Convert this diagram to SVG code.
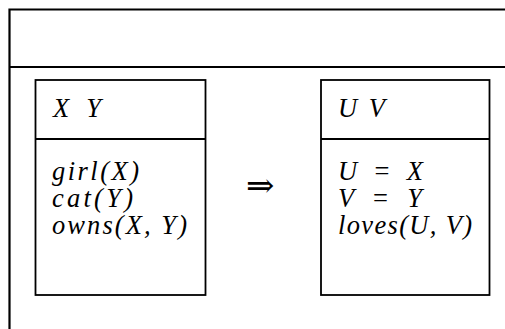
<svg xmlns="http://www.w3.org/2000/svg" width="505" height="329" viewBox="0 0 505 329">
<style>
.frame{fill:none;stroke:#000;stroke-width:2.2}
.box{fill:none;stroke:#000;stroke-width:1.8}
.t{font-family:"Liberation Serif","Times New Roman",serif;font-style:italic;font-size:26.5px;fill:#000}
.up{font-style:normal}
.sym{font-family:"Liberation Serif","DejaVu Serif",serif;font-size:34px;fill:#000}
</style>
<rect width="505" height="329" fill="#fff"/>
<g id="frame">
<path class="frame" d="M9.5 335 V9.5 H510 M9.5 67 H510"/>
</g>
<g id="left">
<rect class="box" x="35.5" y="80" width="170" height="215"/>
<line class="box" x1="35.5" y1="139" x2="205.5" y2="139"/>
<text class="t" x="53" y="117" textLength="48" lengthAdjust="spacing">X Y</text>
<text class="t" x="52" y="180" textLength="87" lengthAdjust="spacing">girl(X)</text>
<text class="t" x="52" y="207" textLength="81" lengthAdjust="spacing">cat(Y)</text>
<text class="t" x="52" y="234" textLength="135" lengthAdjust="spacing">owns(X, Y)</text>
</g>
<g id="connectors">
<text class="sym" x="246" y="197">⇒</text>
</g>
<g id="right">
<rect class="box" x="321" y="80" width="168.5" height="215"/>
<line class="box" x1="321" y1="139" x2="489.5" y2="139"/>
<text class="t" x="338" y="117" textLength="47" lengthAdjust="spacing">U V</text>
<text class="t" x="338" y="180" textLength="85" lengthAdjust="spacing">U <tspan class="up">=</tspan> X</text>
<text class="t" x="338" y="207" textLength="84" lengthAdjust="spacing">V <tspan class="up">=</tspan> Y</text>
<text class="t" x="338" y="234" textLength="134" lengthAdjust="spacing">loves(U, V)</text>
</g>
</svg>
